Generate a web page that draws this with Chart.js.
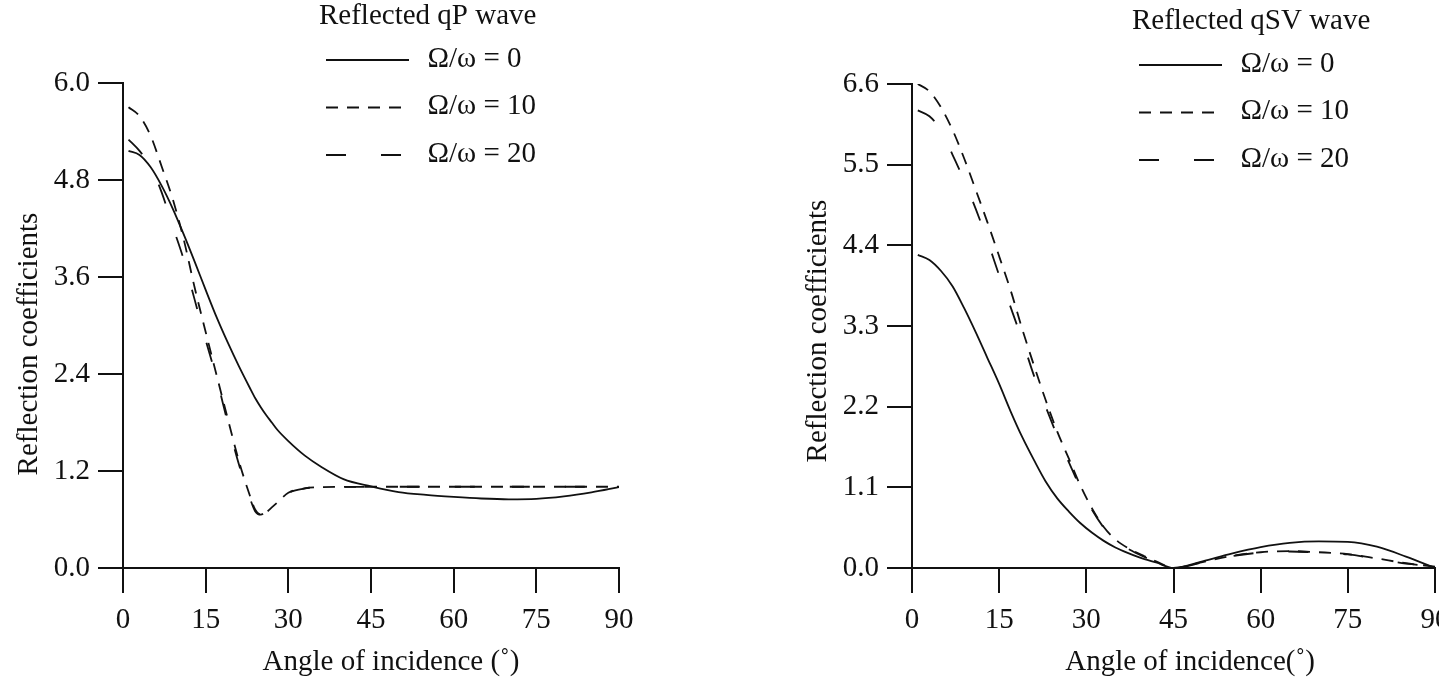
<!DOCTYPE html>
<html>
<head>
<meta charset="utf-8">
<title>Reflection coefficients</title>
<script src="https://cdn.jsdelivr.net/npm/chart.js@4.4.1/dist/chart.umd.min.js"></script>
<style>
  html, body { margin: 0; padding: 0; background: #fff; overflow: hidden; }
  body { width: 1439px; height: 677px; position: relative; }
  .panel { position: absolute; top: 0; }
  #qpBox { left: 0; }
  #qsvBox { left: 789px; }
</style>
</head>
<body>
<div class="panel" id="qpBox"><canvas id="qpChart" width="700" height="677"></canvas></div>
<div class="panel" id="qsvBox"><canvas id="qsvChart" width="711" height="677"></canvas></div>
<script>
// ---- data ----
var seriesLabels = ['Ω/ω = 0', 'Ω/ω = 10', 'Ω/ω = 20'];
var angleTicks = [0, 15, 30, 45, 60, 75, 90];

// reflected qP wave
var anglesP = [1, 3, 5, 7, 9, 11, 13, 15, 17, 19, 21, 23, 24, 25, 26, 27, 28, 30, 33, 36,
               40, 45, 50, 55, 60, 65, 70, 75, 80, 85, 90];
var qp0  = [5.16, 5.11, 4.96, 4.73, 4.45, 4.13, 3.79, 3.44, 3.10, 2.79, 2.50, 2.23, 2.10, 1.99, 1.89, 1.80, 1.71, 1.57, 1.39, 1.25,
            1.10, 1.01, 0.94, 0.905, 0.88, 0.86, 0.85, 0.855, 0.885, 0.935, 1.0];
var qp10 = [5.70, 5.59, 5.35, 4.97, 4.57, 4.07, 3.47, 2.92, 2.38, 1.85, 1.33, 0.90, 0.72, 0.66, 0.69, 0.75, 0.81, 0.93, 0.985, 1.0,
            1.003, 1.005, 1.005, 1.005, 1.005, 1.005, 1.005, 1.005, 1.005, 1.005, 1.005];
var qp20 = [5.30, 5.16, 4.97, 4.65, 4.23, 3.82, 3.32, 2.82, 2.34, 1.80, 1.29, 0.87, 0.70, 0.66, 0.70, 0.76, 0.82, 0.93, 0.985, 1.0,
            1.003, 1.005, 1.005, 1.005, 1.005, 1.005, 1.005, 1.005, 1.005, 1.005, 1.005];
var qpTicks = [0, 1.2, 2.4, 3.6, 4.8, 6.0];

// reflected qSV wave
var anglesSV = [1, 3, 5, 7, 9, 11, 13, 15, 17, 19, 21, 23, 25, 27, 29, 31, 33, 35, 37, 40, 42,
                45, 50, 55, 60, 65, 70, 75, 80, 85, 90];
var qsv0  = [4.27, 4.20, 4.05, 3.84, 3.54, 3.21, 2.86, 2.51, 2.13, 1.78, 1.47, 1.18, 0.95, 0.77, 0.61, 0.48, 0.37, 0.28, 0.21, 0.12, 0.075,
             0.0, 0.092, 0.197, 0.285, 0.343, 0.363, 0.356, 0.29, 0.155, 0.0];
var qsv10 = [6.60, 6.50, 6.28, 5.97, 5.58, 5.15, 4.71, 4.25, 3.78, 3.25, 2.76, 2.29, 1.86, 1.49, 1.12, 0.81, 0.56, 0.39, 0.28, 0.16, 0.09,
             0.0, 0.08, 0.165, 0.215, 0.23, 0.215, 0.19, 0.13, 0.065, 0.02];
var qsv20 = [6.24, 6.16, 5.97, 5.63, 5.28, 4.89, 4.46, 3.99, 3.55, 3.10, 2.62, 2.20, 1.80, 1.44, 1.09, 0.79, 0.55, 0.38, 0.27, 0.15, 0.085,
             0.0, 0.075, 0.16, 0.21, 0.225, 0.21, 0.185, 0.125, 0.06, 0.025];
var qsvTicks = [0, 1.1, 2.2, 3.3, 4.4, 5.5, 6.6];

// ---- styling ----
var INK = '#111';
var FONT = '"Liberation Serif", "Times New Roman", serif';
var FONT_SIZE = 29;
var dashes = [[], [12, 9], [20, 35]];

Chart.defaults.font.family = FONT;
Chart.defaults.font.size = FONT_SIZE;
Chart.defaults.color = INK;

// legend block + axis captions, drawn on top of the chart
var captionPlugin = {
    id: 'captions',
    afterDraw: function (chart, args, opts) {
        var ctx = chart.ctx;
        ctx.save();
        ctx.fillStyle = INK;
        ctx.strokeStyle = INK;
        ctx.font = FONT_SIZE + 'px ' + FONT;

        ctx.textAlign = 'left';
        ctx.textBaseline = 'alphabetic';
        ctx.fillText(opts.legendTitle, opts.legendX - 7, opts.legendTitleY);

        chart.data.datasets.forEach(function (ds, i) {
            var y = opts.legendY + i * 47.5;
            ctx.beginPath();
            ctx.setLineDash(ds.borderDash || []);
            ctx.lineWidth = ds.borderWidth;
            ctx.moveTo(opts.legendX, y);
            ctx.lineTo(opts.legendX + 83, y);
            ctx.stroke();
            ctx.setLineDash([]);
            ctx.textBaseline = 'middle';
            ctx.fillText(ds.label, opts.legendX + 101.5, y - 1);
        });

        ctx.textAlign = 'center';
        ctx.textBaseline = 'middle';
        ctx.fillText(opts.xTitle, opts.xTitleX, opts.xTitleY);
        ctx.translate(opts.yTitleX, opts.yTitleY);
        ctx.rotate(-Math.PI / 2);
        ctx.fillText(opts.yTitle, 0, 0);
        ctx.restore();
    }
};

function toPoints(angles, vals) {
    return angles.map(function (a, k) { return { x: a, y: vals[k] }; });
}

function makeChart(id, angles, series, yTicks, caps, padding) {
    var axisLine = { display: true, color: INK, width: 2 };
    var marks = { drawOnChartArea: false, drawTicks: true, tickLength: 25, color: INK, lineWidth: 2 };
    return new Chart(document.getElementById(id), {
        type: 'line',
        data: {
            datasets: series.map(function (vals, i) {
                return {
                    label: seriesLabels[i],
                    data: toPoints(angles, vals),
                    borderColor: INK,
                    borderWidth: 1.8,
                    borderDash: dashes[i],
                    pointRadius: 0,
                    cubicInterpolationMode: 'monotone',
                    fill: false
                };
            })
        },
        options: {
            responsive: false,
            animation: false,
            layout: { padding: padding },
            plugins: {
                legend: { display: false },
                tooltip: { enabled: false },
                captions: caps
            },
            scales: {
                x: {
                    type: 'linear',
                    min: 0,
                    max: 90,
                    afterBuildTicks: function (s) { s.ticks = angleTicks.map(function (v) { return { value: v }; }); },
                    afterFit: function (s) { s.height = 109; },
                    grid: marks,
                    border: axisLine,
                    ticks: { padding: 10, maxRotation: 0, callback: function (v) { return v; } }
                },
                y: {
                    type: 'linear',
                    min: 0,
                    max: yTicks[yTicks.length - 1],
                    afterBuildTicks: function (s) { s.ticks = yTicks.map(function (v) { return { value: v }; }); },
                    afterFit: function (s) { s.width = 123; },
                    grid: marks,
                    border: axisLine,
                    ticks: { padding: 8, callback: function (v) { return Number(v).toFixed(1); } }
                }
            }
        },
        plugins: [captionPlugin]
    });
}

makeChart('qpChart', anglesP, [qp0, qp10, qp20], qpTicks, {
    legendTitle: 'Reflected qP wave',
    legendX: 326, legendY: 60, legendTitleY: 23.5,
    xTitle: 'Angle of incidence (˚)', xTitleX: 391, xTitleY: 662.5,
    yTitle: 'Reflection coefficients', yTitleX: 29, yTitleY: 344
}, { top: 83, right: 81, bottom: 0, left: 0 });

makeChart('qsvChart', anglesSV, [qsv0, qsv10, qsv20], qsvTicks, {
    legendTitle: 'Reflected qSV wave',
    legendX: 350, legendY: 65, legendTitleY: 28.5,
    xTitle: 'Angle of incidence(˚)', xTitleX: 401, xTitleY: 662.5,
    yTitle: 'Reflection coefficients', yTitleX: 29, yTitleY: 331
}, { top: 84, right: 65, bottom: 0, left: 0 });
</script>
</body>
</html>
